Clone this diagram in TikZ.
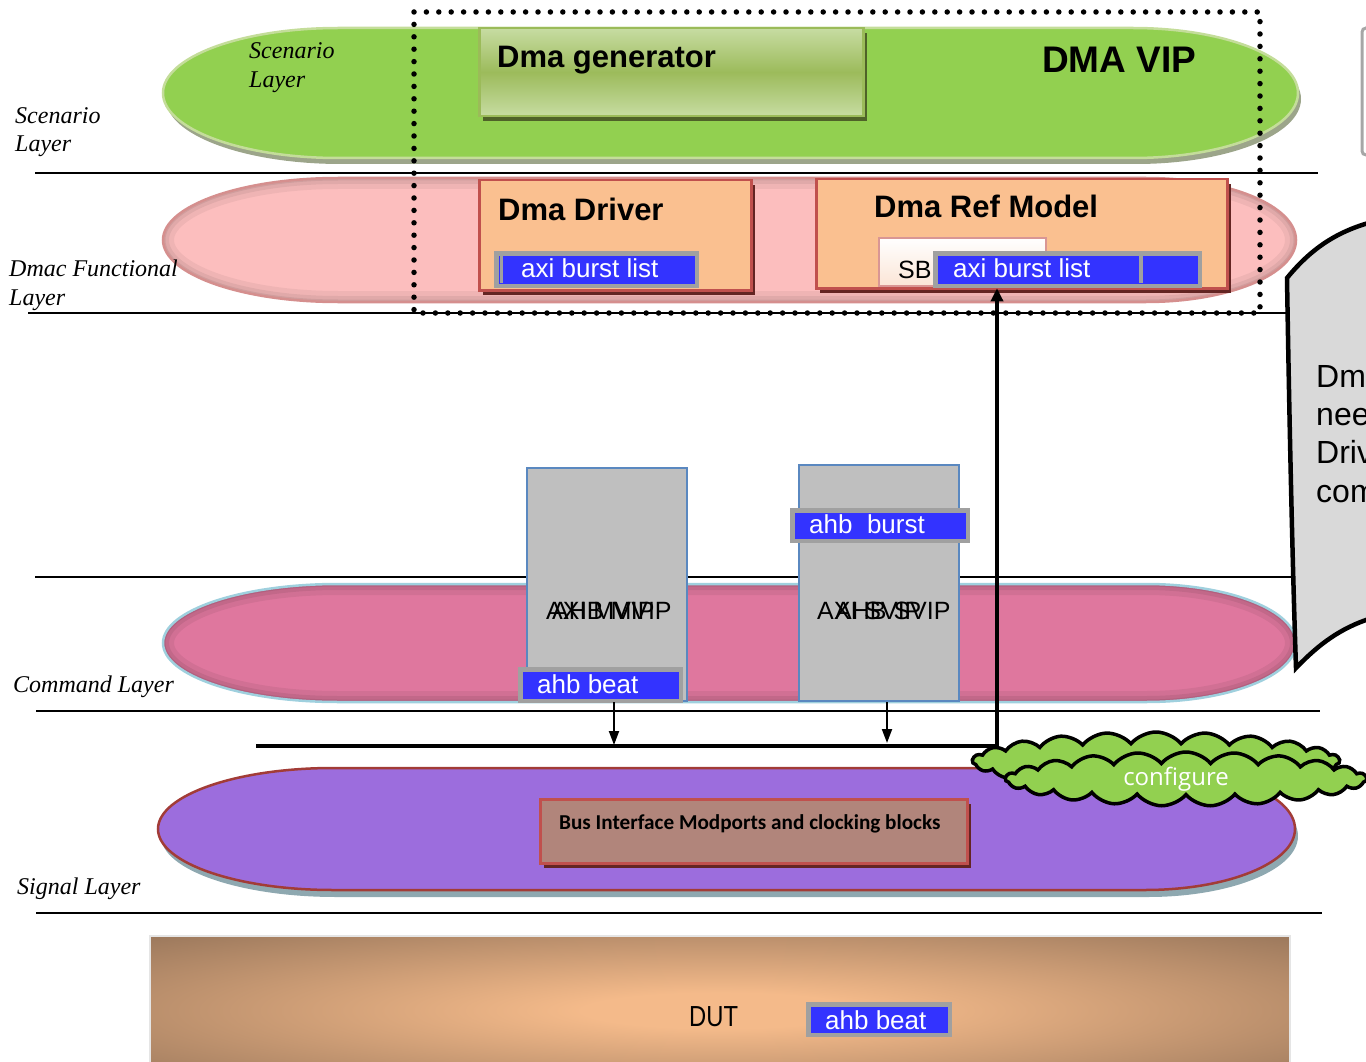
\documentclass[tikz,border=0pt]{standalone}
\usepackage{fontspec}
\setmainfont{Liberation Sans}
\newfontfamily\layerserif{Liberation Serif}
\newfontfamily\carlito{Carlito}
\newfontfamily\opensans{Open Sans}
\usetikzlibrary{shapes.symbols,shadows,arrows.meta}

\definecolor{scengreen}{HTML}{92D050}
\definecolor{scenedge}{HTML}{C4DD9A}
\definecolor{scenshadow}{HTML}{9CA58A}
\definecolor{funcpink}{HTML}{FCBEBE}
\definecolor{funcedge}{HTML}{D58F8E}
\definecolor{cmdpink}{HTML}{DF779E}
\definecolor{cmdedge}{HTML}{9FD0DE}
\definecolor{sigpurple}{HTML}{9C6DDD}
\definecolor{sigedge}{HTML}{A23C37}
\definecolor{sigshadow}{HTML}{8EA8B0}
\definecolor{boxorange}{HTML}{FAC090}
\definecolor{boxred}{HTML}{C0504D}
\definecolor{boxshadow}{HTML}{632523}
\definecolor{genlight}{HTML}{C7DCA2}
\definecolor{genmid}{HTML}{9CBB5B}
\definecolor{genedge}{HTML}{9BBB59}
\definecolor{genshadow}{HTML}{4F6228}
\definecolor{tagblue}{HTML}{3333FF}
\definecolor{taggray}{HTML}{A0A0A0}
\definecolor{vipgray}{HTML}{BFBFBF}
\definecolor{vipedge}{HTML}{5A88C0}
\definecolor{busbrown}{HTML}{B1857B}
\definecolor{sbedge}{HTML}{D99694}
\definecolor{sbbottom}{HTML}{FBE5D6}
\definecolor{dutlight}{HTML}{F4BA8A}
\definecolor{dutdark}{HTML}{97755A}
\definecolor{notegray}{HTML}{D9D9D9}

\pgfdeclareradialshading{dutglow}{\pgfpoint{0bp}{0bp}}{color(0bp)=(dutlight); color(6bp)=(dutlight); color(37bp)=(dutdark); color(100bp)=(dutdark)}

% layer band: x1, y1, x2, y2, left end radius, right end radius
\newcommand\layerpill[6]{({#1+#5},#2) -- ({#3-#6},#2)
  arc[start angle=-90, end angle=90, x radius=#6, y radius={(#4-#2)/2}]
  -- ({#1+#5},#4)
  arc[start angle=90, end angle=270, x radius=#5, y radius={(#4-#2)/2}] -- cycle}

\begin{document}
\begin{tikzpicture}[x=1pt, y=-1pt,
  sepline/.style={line width=1.6pt},
  laylabel/.style={font=\layerserif\itshape\fontsize{24}{29}\selectfont, anchor=base west, inner sep=0pt},
  heading/.style={font=\bfseries\fontsize{31}{36}\selectfont, anchor=base west, inner sep=0pt},
  genbox/.style={draw=genedge, line width=2.5, top color=genlight, bottom color=genlight, middle color=genmid,
    anchor=north west, inner sep=0pt,
    drop shadow={shadow xshift=4pt, shadow yshift=-5pt, fill=genshadow, opacity=1}},
  modbox/.style={draw=boxred, line width=2.5, fill=boxorange, anchor=north west, inner sep=0pt,
    drop shadow={shadow xshift=4pt, shadow yshift=-5pt, fill=boxshadow, opacity=1}},
  tagbox/.style={draw=taggray, line width=4.5, fill=tagblue, anchor=north west, inner sep=0pt},
  tagtext/.style={font=\fontsize{26}{30}\selectfont, text=white, anchor=base west, inner sep=0pt},
  vipbox/.style={draw=vipedge, line width=2, fill=vipgray, anchor=north west, inner sep=0pt},
  viptext/.style={font=\fontsize{25}{29}\selectfont, anchor=base west, inner sep=0pt},
  notetext/.style={font=\fontsize{32}{38}\selectfont, anchor=base west, inner sep=0pt},
  puffcloud/.style={cloud, cloud ignores aspect, cloud puffs=23, cloud puff arc=100, draw=black,
    line width=3.5, fill=scengreen, inner sep=0pt},
  droparrow/.style={line width=2, -{Triangle[length=14pt, width=10pt]}},
  busarrow/.style={line width=3.5, -{Triangle[length=13pt, width=12pt]}},
  dotframe/.style={line width=5.5, dash pattern=on 0pt off 12.4pt, line cap=round}
]
\useasboundingbox (0,0) rectangle (1366,1062);

% layer separators
\draw[sepline] (35,173) -- (1318,173);
\draw[sepline] (28,313) -- (1292,313);
\draw[sepline] (35,577) -- (1292,577);
\draw[sepline] (36,711) -- (1320,711);
\draw[sepline] (36,913) -- (1322,913);

% scenario layer band
\fill[scenshadow, shift={(3,6)}] \layerpill{163}{28}{1298}{158}{175}{165};
\filldraw[fill=scengreen, draw=scenedge, line width=2.5] \layerpill{163}{28}{1298}{158}{175}{165};

% functional layer band with inner glow
\fill[funcpink] \layerpill{163}{178}{1296}{302}{175}{150};
\begin{scope}
  \clip \layerpill{163}{178}{1296}{302}{175}{150};
  \draw[black, opacity=0.05, line width=22] \layerpill{163}{178}{1296}{302}{175}{150};
  \draw[black, opacity=0.06, line width=12] \layerpill{163}{178}{1296}{302}{175}{150};
  \draw[black, opacity=0.07, line width=5] \layerpill{163}{178}{1296}{302}{175}{150};
\end{scope}
\draw[funcedge, line width=2.5] \layerpill{163}{178}{1296}{302}{175}{150};

% command layer band with inner glow
\fill[cmdpink] \layerpill{163}{584}{1296}{702}{175}{150};
\begin{scope}
  \clip \layerpill{163}{584}{1296}{702}{175}{150};
  \draw[black, opacity=0.06, line width=22] \layerpill{163}{584}{1296}{702}{175}{150};
  \draw[black, opacity=0.07, line width=12] \layerpill{163}{584}{1296}{702}{175}{150};
  \draw[black, opacity=0.08, line width=5] \layerpill{163}{584}{1296}{702}{175}{150};
\end{scope}
\draw[cmdedge, line width=2.5] \layerpill{163}{584}{1296}{702}{175}{150};

% signal layer band
\fill[sigshadow, shift={(3,7)}] \layerpill{158}{768}{1295}{890}{175}{150};
\filldraw[fill=sigpurple, draw=sigedge, line width=2.5] \layerpill{158}{768}{1295}{890}{175}{150};

% layer labels
\node[laylabel] (scenA) at (15,124) {Scenario};
\node[laylabel] (scenB) at (15,152) {Layer};
\node[laylabel] (scenInA) at (249,59) {Scenario};
\node[laylabel] (scenInB) at (249,88) {Layer};
\node[laylabel] (funcA) at (9,276) {Dmac Functional};
\node[laylabel] (funcB) at (9,305) {Layer};
\node[laylabel] (cmdlab) at (13,692) {Command Layer};
\node[laylabel] (siglab) at (17,894) {Signal Layer};

% scenario components
\node[genbox, minimum width=384, minimum height=88] (gen) at (478,27) {};
\node[heading] (gentext) at (497,68) {Dma generator};
\node[font=\bfseries\fontsize{37}{42}\selectfont, anchor=base west, inner sep=0pt] (viptitle) at (1042,73) {DMA VIP};

% functional components
\node[modbox, minimum width=272, minimum height=110] (driver) at (478,179) {};
\node[heading] (drivertext) at (498,220) {Dma Driver};
\node[modbox, minimum width=411, minimum height=109] (refmodel) at (815,178) {};
\node[heading] (reftext) at (874,218) {Dma Ref Model};
\node[draw=sbedge, line width=2, top color=white, bottom color=sbbottom, anchor=north west,
  inner sep=0pt, minimum width=167, minimum height=48] (sb) at (878,237) {};
\node[font=\fontsize{25}{30}\selectfont, anchor=base west, inner sep=0pt] (sbtext) at (898,278) {SB};

\node[tagbox, minimum width=200.5, minimum height=32.5] (drvtag) at (494.25,251.25) {};
\draw[taggray, line width=3.5] (501.5,253.5) -- (501.5,283);
\node[tagtext] (drvtagtext) at (521,277) {axi burst list};
\node[tagbox, minimum width=264.5, minimum height=32.5] (reftag) at (933.25,251.25) {};
\draw[taggray, line width=4.5] (1141,253.5) -- (1141,283);
\node[tagtext] (reftagtext) at (953,277) {axi burst list};

% VIP agents in the command layer
\node[vipbox, minimum width=160, minimum height=233] (mvip) at (526,467) {};
\node[viptext] (mvipA) at (546,619) {AXI MVIP};
\node[viptext] (mvipB) at (552,619) {AHB MVIP};
\node[vipbox, minimum width=160, minimum height=236] (svip) at (798,464) {};
\node[viptext] (svipA) at (817,619) {AXI SVIP};
\node[viptext] (svipB) at (835,619) {AHB SVIP};

\node[tagbox, minimum width=175.5, minimum height=30.5] (bursttag) at (790.25,508.25) {};
\node[tagtext] (bursttext) at (809,533) {ahb\ \ burst};
\node[tagbox, minimum width=160.5, minimum height=31.5] (beattag) at (518.25,667.25) {};
\node[tagtext] (beattext) at (537,693) {ahb beat};

% bus between command and signal layers
\coordinate (srcA) at (614,702);
\coordinate (tapA) at (614,745);
\coordinate (srcB) at (887,702);
\coordinate (tapB) at (887,743);
\coordinate (busL) at (256,746);
\coordinate (busR) at (997,746);
\draw[droparrow] (srcA) -- (tapA);
\draw[droparrow] (srcB) -- (tapB);
\draw[busarrow] (busL) -- (busR) -- (busR |- reftag.south);

% signal layer interface block
\node[draw=boxred, line width=2.5, fill=busbrown, anchor=north west, inner sep=0pt,
  minimum width=427, minimum height=64,
  drop shadow={shadow xshift=4pt, shadow yshift=-5pt, fill=boxshadow, opacity=1}] (busif) at (539,798) {};
\node[font=\carlito\bfseries\fontsize{21.2}{25}\selectfont, anchor=base west, inner sep=0pt] (busiftext) at (559,829) {Bus Interface Modports and clocking blocks};

% configuration cloud
\node[puffcloud, minimum width=367, minimum height=58] (cloudback) at (1156,761) {};
\node[puffcloud, minimum width=361, minimum height=54] (cloudfront) at (1186,779) {};
\node[font=\opensans\fontsize{24}{28}\selectfont, text=white, inner sep=0pt] (cfgtext) at (1176,779) {configure};

% VIP boundary
\draw[dotframe] (414,12) rectangle (1260,313);

% side note
\draw[draw=black!35, line width=3, rounded corners=4, fill=white] (1362,28) rectangle (1400,155);
\filldraw[fill=notegray, draw=black, line width=4.5]
  (1287,278) .. controls (1310,250) and (1335,232) .. (1372,222) -- (1372,618)
  .. controls (1340,628) and (1318,645) .. (1296,668)
  .. controls (1292,550) and (1289,400) .. cycle;
\node[notetext] (noteA) at (1316,387) {Dma};
\node[notetext] (noteB) at (1316,425) {need};
\node[notetext] (noteC) at (1316,463) {Driver};
\node[notetext] (noteD) at (1316,502) {com};

% design under test
\shade[shading=dutglow] (150,936) rectangle (1290,1085);
\draw[black!10, line width=1.5] (150,1085) -- (150,936) -- (1290,936) -- (1290,1085);
\node[font=\fontsize{29}{34}\selectfont, anchor=base west, inner sep=0pt] (duttext) at (689,1026) {\scalebox{0.82}[1]{DUT}};
\node[tagbox, minimum width=141.5, minimum height=30.5] (duttag) at (806.25,1002.25) {};
\node[tagtext] (duttagtext) at (825,1029) {ahb beat};

\end{tikzpicture}
\end{document}
